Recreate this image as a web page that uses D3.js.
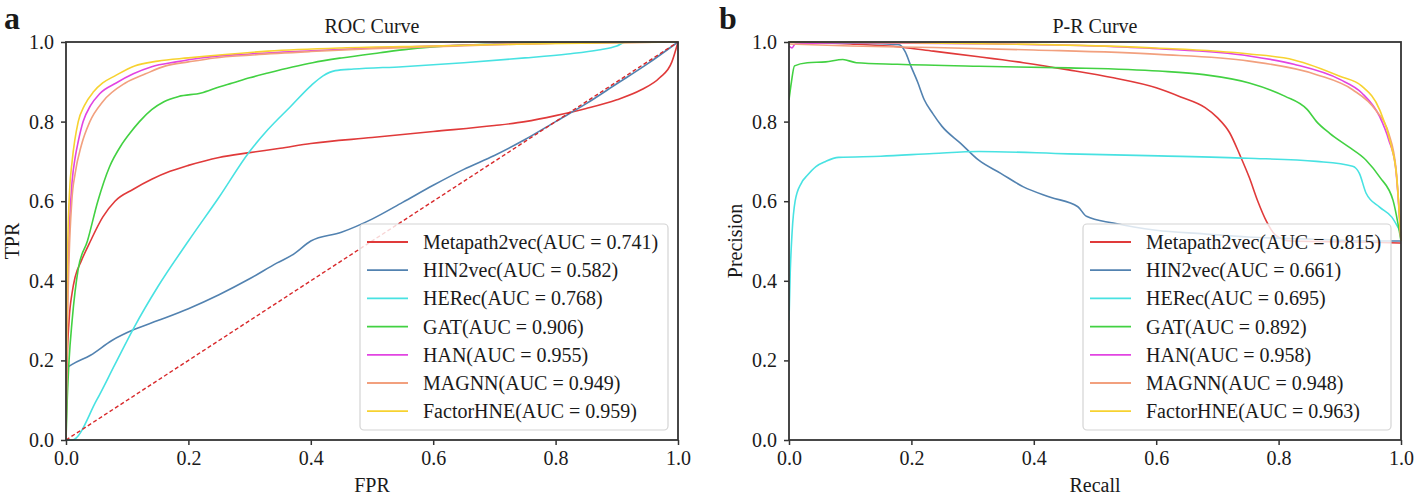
<!DOCTYPE html>
<html>
<head>
<meta charset="utf-8">
<script src="https://cdn.jsdelivr.net/npm/d3@7"></script>
<style>
  html, body { margin: 0; padding: 0; background: #fff; }
  svg { display: block; }
  text { font-family: "Liberation Serif", "DejaVu Serif", serif; fill: #1a1a1a; }
</style>
</head>
<body>
<svg id="chart" width="1416" height="496"></svg>
<script>
// ---------------- DATA ----------------
const methods = ["Metapath2vec", "HIN2vec", "HERec", "GAT", "HAN", "MAGNN", "FactorHNE"];
const colors  = ["#e03a3a", "#5282b0", "#48e2e2", "#42d142", "#e244e2", "#f2a07e", "#f7d230"];
const rocAUC  = ["0.741", "0.582", "0.768", "0.906", "0.955", "0.949", "0.959"];
const prAUC   = ["0.815", "0.661", "0.695", "0.892", "0.958", "0.948", "0.963"];
const tickValues = [0, 0.2, 0.4, 0.6, 0.8, 1.0];

// ROC curves: [FPR, TPR]
const rocMetapath2vec = [[0,0],[0.001,0.12],[0.002,0.2],[0.005,0.3],[0.01,0.37],[0.015,0.41],[0.025,0.45],[0.04,0.5],[0.06,0.56],[0.08,0.6],[0.11,0.63],[0.14,0.655],[0.17,0.675],[0.2,0.69],[0.25,0.71],[0.3,0.722],[0.35,0.733],[0.4,0.745],[0.5,0.76],[0.6,0.775],[0.7,0.79],[0.75,0.8],[0.8,0.815],[0.85,0.833],[0.9,0.855],[0.94,0.88],[0.97,0.91],[0.99,0.95],[1,1]];
const rocHIN2vec = [[0,0.18],[0.01,0.19],[0.04,0.213],[0.075,0.25],[0.112,0.278],[0.15,0.3],[0.2,0.33],[0.25,0.365],[0.3,0.405],[0.345,0.445],[0.37,0.465],[0.4,0.5],[0.45,0.522],[0.5,0.555],[0.55,0.597],[0.6,0.64],[0.65,0.68],[0.7,0.715],[0.75,0.755],[0.8,0.8],[0.85,0.845],[0.9,0.895],[0.95,0.945],[1,1]];
const rocHERec = [[0,0],[0.01,0],[0.05,0.1],[0.08,0.19],[0.112,0.285],[0.15,0.385],[0.2,0.5],[0.25,0.61],[0.3,0.725],[0.33,0.78],[0.367,0.838],[0.4,0.89],[0.42,0.915],[0.44,0.928],[0.47,0.932],[0.55,0.938],[0.65,0.948],[0.75,0.96],[0.82,0.97],[0.87,0.98],[0.9,0.99],[0.915,1.0],[1,1]];
const rocGAT = [[0,0],[0.002,0.1],[0.005,0.2],[0.01,0.3],[0.02,0.43],[0.035,0.5],[0.052,0.6],[0.071,0.686],[0.09,0.74],[0.104,0.77],[0.12,0.8],[0.14,0.83],[0.16,0.85],[0.184,0.863],[0.221,0.872],[0.25,0.887],[0.272,0.897],[0.3,0.91],[0.33,0.922],[0.37,0.937],[0.403,0.948],[0.45,0.96],[0.513,0.973],[0.56,0.982],[0.622,0.99],[0.7,0.995],[0.768,0.998],[0.85,0.999],[1,1]];
const rocHAN = [[0,0],[0.001,0.2],[0.003,0.4],[0.006,0.55],[0.01,0.65],[0.015,0.71],[0.02,0.75],[0.028,0.8],[0.04,0.84],[0.055,0.87],[0.082,0.897],[0.11,0.92],[0.14,0.938],[0.18,0.95],[0.22,0.96],[0.3,0.97],[0.4,0.978],[0.5,0.985],[0.6,0.99],[0.7,0.994],[0.8,0.997],[1,1]];
const rocMAGNN = [[0,0],[0.001,0.15],[0.004,0.4],[0.0095,0.6],[0.015,0.67],[0.025,0.74],[0.039,0.8],[0.06,0.85],[0.097,0.897],[0.13,0.92],[0.163,0.94],[0.2,0.95],[0.243,0.96],[0.3,0.967],[0.4,0.976],[0.5,0.983],[0.6,0.988],[0.7,0.993],[0.8,0.997],[1,1]];
const rocFactorHNE = [[0,0],[0.001,0.3],[0.003,0.5],[0.006,0.63],[0.01,0.7],[0.02,0.8],[0.03,0.84],[0.045,0.875],[0.06,0.897],[0.08,0.915],[0.112,0.94],[0.15,0.952],[0.2,0.96],[0.33,0.977],[0.45,0.985],[0.6,0.99],[0.75,0.995],[1,1]];
const rocChance = [[0,0],[1,1]];

// P-R curves: [Recall, Precision]
const prMetapath2vec = [[0,1.0],[0.05,0.998],[0.1,0.995],[0.184,0.987],[0.236,0.977],[0.31,0.963],[0.383,0.948],[0.457,0.93],[0.53,0.91],[0.6,0.885],[0.64,0.862],[0.68,0.835],[0.7,0.81],[0.72,0.772],[0.737,0.715],[0.752,0.66],[0.766,0.6],[0.78,0.55],[0.795,0.515],[0.82,0.5],[0.9,0.498],[0.95,0.497],[1.0,0.495]];
const prHIN2vec = [[0,1.0],[0.05,0.998],[0.1,0.997],[0.15,0.996],[0.18,0.993],[0.19,0.975],[0.199,0.94],[0.21,0.9],[0.221,0.855],[0.235,0.82],[0.25,0.788],[0.28,0.746],[0.31,0.703],[0.346,0.67],[0.383,0.636],[0.427,0.61],[0.472,0.586],[0.486,0.562],[0.53,0.545],[0.6,0.527],[0.678,0.518],[0.75,0.51],[0.85,0.505],[0.95,0.5],[1.0,0.5]];
const prHERec = [[0,0.3],[0.002,0.42],[0.005,0.52],[0.01,0.6],[0.02,0.645],[0.03,0.665],[0.044,0.687],[0.06,0.7],[0.081,0.71],[0.15,0.713],[0.236,0.72],[0.31,0.725],[0.457,0.719],[0.604,0.714],[0.75,0.708],[0.862,0.7],[0.921,0.688],[0.932,0.67],[0.943,0.62],[0.965,0.585],[0.985,0.56],[1.0,0.52]];
const prGAT = [[0,0.855],[0.004,0.9],[0.009,0.94],[0.03,0.948],[0.06,0.95],[0.088,0.956],[0.11,0.948],[0.177,0.944],[0.31,0.939],[0.457,0.935],[0.604,0.927],[0.678,0.918],[0.752,0.897],[0.81,0.864],[0.847,0.83],[0.862,0.8],[0.884,0.77],[0.914,0.737],[0.943,0.703],[0.965,0.661],[0.987,0.602],[1.0,0.5]];
const prHAN = [[0,0.99],[0.005,0.985],[0.01,0.995],[0.1,0.998],[0.3,0.996],[0.5,0.99],[0.604,0.983],[0.752,0.965],[0.825,0.944],[0.9,0.906],[0.936,0.872],[0.965,0.813],[0.98,0.754],[0.991,0.687],[1.0,0.5]];
const prMAGNN = [[0,0.995],[0.1,0.99],[0.236,0.986],[0.4,0.98],[0.604,0.969],[0.752,0.952],[0.862,0.918],[0.921,0.88],[0.958,0.83],[0.98,0.77],[0.992,0.68],[1.0,0.5]];
const prFactorHNE = [[0,1.0],[0.2,0.998],[0.4,0.994],[0.6,0.985],[0.752,0.97],[0.825,0.955],[0.9,0.914],[0.936,0.889],[0.965,0.83],[0.983,0.746],[0.993,0.66],[1.0,0.5]];

const rocSeries = [rocMetapath2vec, rocHIN2vec, rocHERec, rocGAT, rocHAN, rocMAGNN, rocFactorHNE];
const prSeries  = [prMetapath2vec, prHIN2vec, prHERec, prGAT, prHAN, prMAGNN, prFactorHNE];

// ---------------- DRAW ----------------
const svg = d3.select("#chart");
const FONT = 20;

function panel(cfg) {
  const { left, right, top, bottom } = cfg;
  const x = d3.scaleLinear().domain([0, 1]).range([left, right]);
  const y = d3.scaleLinear().domain([0, 1]).range([bottom, top]);
  const g = svg.append("g");
  const clipId = "clip-" + cfg.id;
  svg.append("defs").append("clipPath").attr("id", clipId)
    .append("rect").attr("x", left).attr("y", top - 1)
    .attr("width", right - left + 1).attr("height", bottom - top + 2);

  const line = d3.line().x(d => x(d[0])).y(d => y(d[1])).curve(d3.curveMonotoneX);
  const lines = g.append("g").attr("clip-path", `url(#${clipId})`);
  cfg.series.forEach((s, i) => {
    lines.append("path").datum(s).attr("d", line)
      .attr("fill", "none").attr("stroke", colors[i])
      .attr("stroke-width", 1.6).attr("stroke-linejoin", "round");
  });
  if (cfg.chance) {
    lines.append("path").datum(cfg.chance)
      .attr("d", d3.line().x(d => x(d[0])).y(d => y(d[1])))
      .attr("fill", "none").attr("stroke", "#d8282a")
      .attr("stroke-width", 1.4).attr("stroke-dasharray", "4,2.5");
  }

  // axes
  const fmt = d3.format(".1f");
  const xa = g.append("g").attr("transform", `translate(0,${bottom})`)
    .call(d3.axisBottom(x).tickValues(tickValues).tickFormat(fmt).tickSize(5).tickPadding(6));
  const ya = g.append("g").attr("transform", `translate(${left},0)`)
    .call(d3.axisLeft(y).tickValues(tickValues).tickFormat(fmt).tickSize(5).tickPadding(7));
  [xa, ya].forEach(a => {
    a.select(".domain").remove();
    a.selectAll(".tick line").attr("stroke", "#333").attr("stroke-width", 1.5);
    a.selectAll(".tick text").attr("font-size", FONT)
      .attr("font-family", '"Liberation Serif", "DejaVu Serif", serif').attr("fill", "#1a1a1a");
  });

  // frame
  g.append("rect").attr("x", left).attr("y", top)
    .attr("width", right - left).attr("height", bottom - top)
    .attr("fill", "none").attr("stroke", "#333").attr("stroke-width", 1.8);

  // title & labels
  const cx = (left + right) / 2;
  g.append("text").attr("x", cx).attr("y", top - 9).attr("text-anchor", "middle")
    .attr("font-size", FONT).text(cfg.title);
  g.append("text").attr("x", cx).attr("y", bottom + 52).attr("text-anchor", "middle")
    .attr("font-size", FONT).text(cfg.xlabel);
  g.append("text").attr("transform", `translate(${left - 47},${(top + bottom) / 2}) rotate(-90)`)
    .attr("text-anchor", "middle").attr("font-size", FONT).text(cfg.ylabel);
  g.append("text").attr("x", cfg.letterX).attr("y", 29)
    .attr("font-size", 32).attr("font-weight", "bold").text(cfg.letter);

  // legend
  const lw = 308, lh = 206;
  const lx = right - 10 - lw, ly = bottom - 10 - lh;
  const leg = g.append("g");
  leg.append("rect").attr("x", lx).attr("y", ly).attr("width", lw).attr("height", lh)
    .attr("rx", 4).attr("fill", "#fff").attr("fill-opacity", 0.8)
    .attr("stroke", "#d4d4d4").attr("stroke-width", 1.2);
  const step = 28.2;
  methods.forEach((m, i) => {
    const ry = ly + 18 + i * step;
    leg.append("line").attr("x1", lx + 7).attr("x2", lx + 48)
      .attr("y1", ry).attr("y2", ry).attr("stroke", colors[i]).attr("stroke-width", 1.8);
    leg.append("text").attr("x", lx + 63).attr("y", ry).attr("dy", "0.35em")
      .attr("font-size", FONT).text(`${m}(AUC = ${cfg.auc[i]})`);
  });
}

panel({ id: "roc", left: 66, right: 678, top: 42, bottom: 440,
  series: rocSeries, chance: rocChance, auc: rocAUC,
  title: "ROC Curve", xlabel: "FPR", ylabel: "TPR", letter: "a", letterX: 4 });
panel({ id: "pr", left: 789, right: 1401, top: 42, bottom: 440,
  series: prSeries, chance: null, auc: prAUC,
  title: "P-R Curve", xlabel: "Recall", ylabel: "Precision", letter: "b", letterX: 719 });
</script>
</body>
</html>
